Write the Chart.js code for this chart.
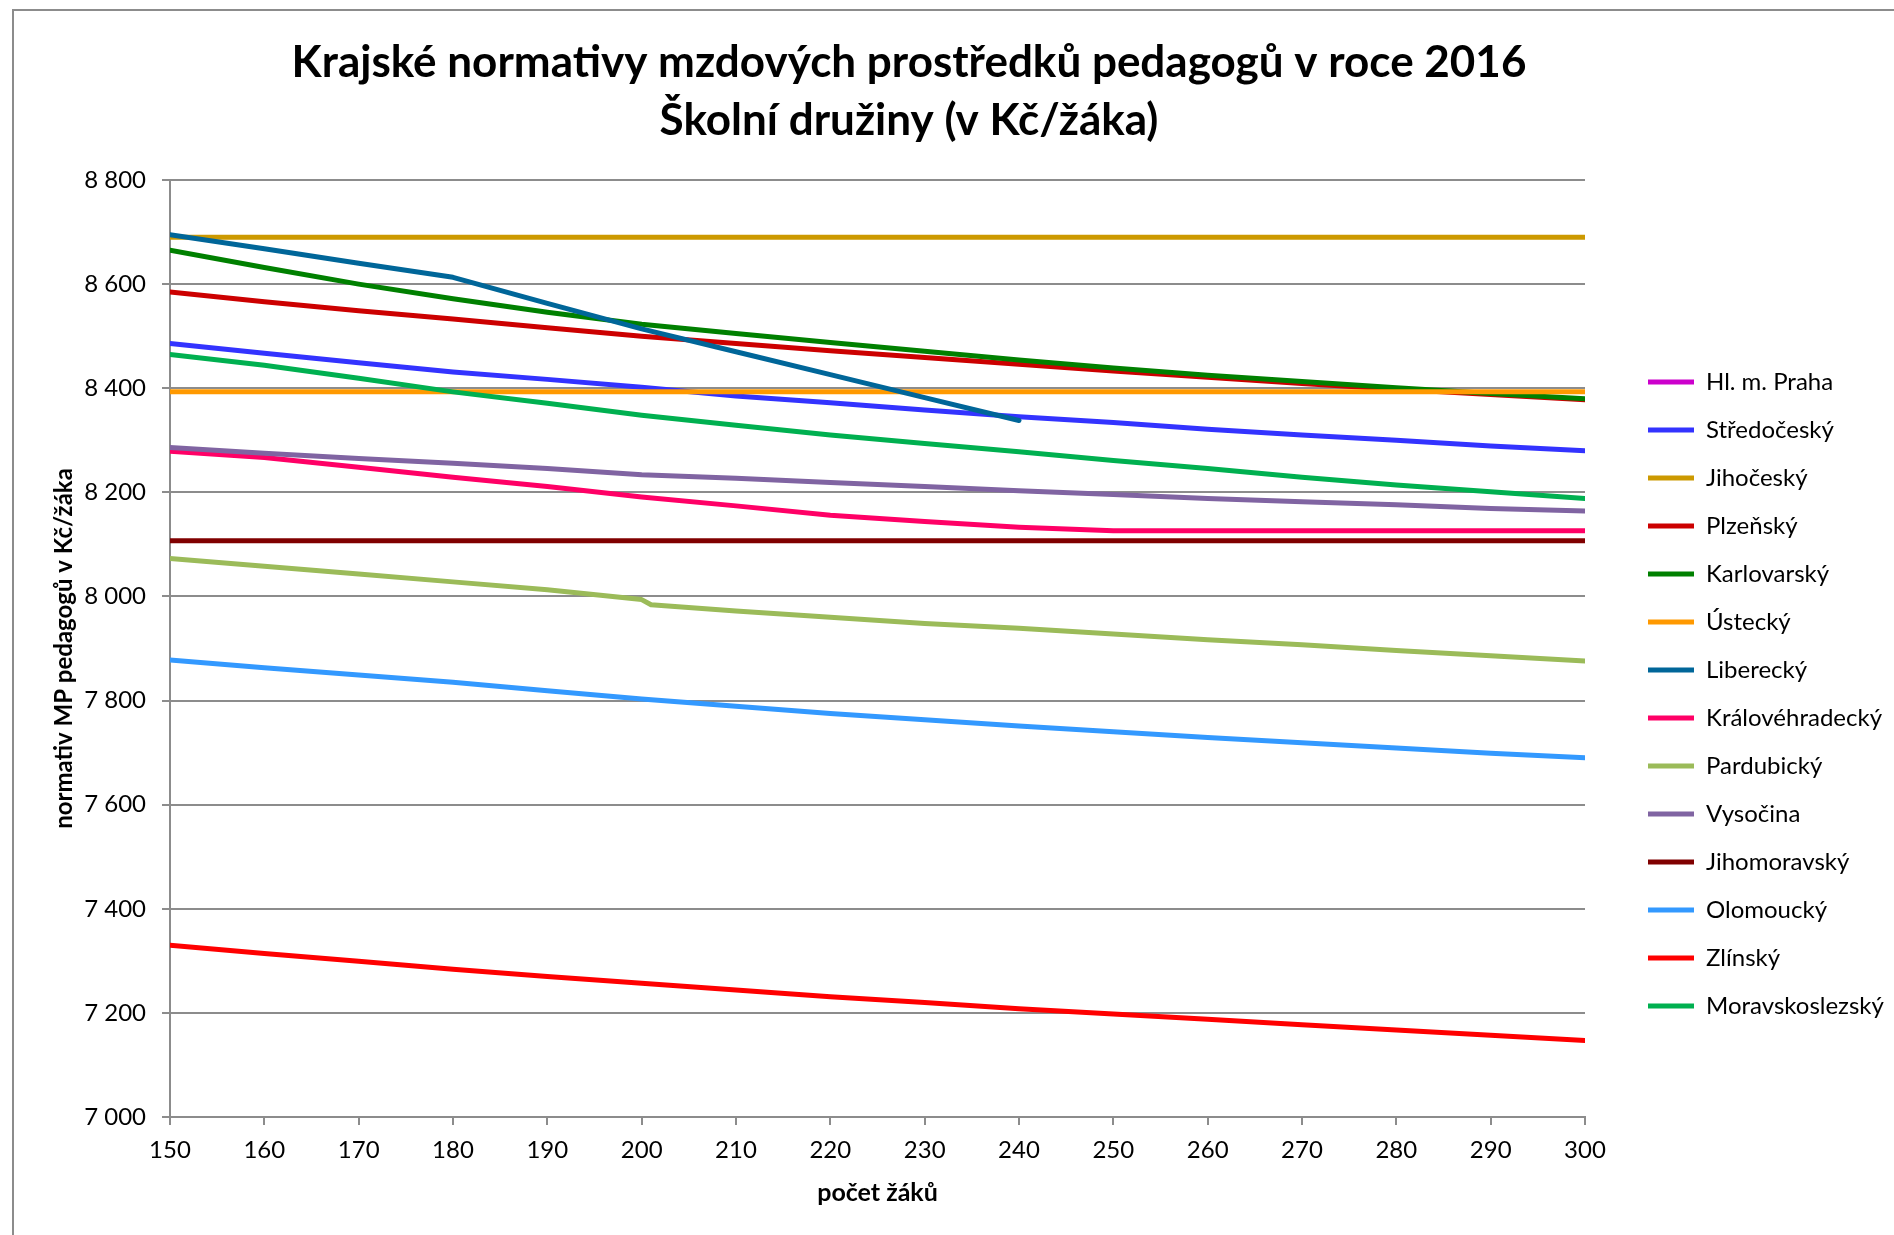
<!DOCTYPE html>
<html lang="cs">
<head>
<meta charset="utf-8">
<title>Krajské normativy – školní družiny</title>
<script src="https://cdn.jsdelivr.net/npm/chart.js@4.4.1/dist/chart.umd.min.js"></script>
<style>
  html, body { margin: 0; padding: 0; background: #fff; overflow: hidden; }
  #ramecek { position: absolute; left: 12px; top: 9px; width: 2000px; height: 1400px; border: 2px solid #8c8c8c; box-sizing: border-box; }
  #obal { position: absolute; left: 0; top: 0; width: 1894px; height: 1235px; }
</style>
</head>
<body>
<div id="ramecek"></div>
<div id="obal"><canvas id="grafico"></canvas></div>
<script>
// počet žáků (osa x), 201 je kvůli skoku u Pardubického kraje
const pocetZaku = [150, 160, 170, 180, 190, 200, 201, 210, 220, 230, 240, 250, 260, 270, 280, 290, 300];

const praha          = [null, null, null, null, null, null, null, null, null, null, null, null, null, null, null, null, null];
const stredocesky    = [8486, 8467, 8449, 8431, 8417, 8402, null, 8385, 8372, 8358, 8345, 8334, 8321, 8310, 8300, 8289, 8280];
const jihocesky      = [8690, 8690, 8690, 8690, 8690, 8690, null, 8690, 8690, 8690, 8690, 8690, 8690, 8690, 8690, 8690, 8690];
const plzensky       = [8585, 8566, 8549, 8533, 8516, 8500, null, 8486, 8472, 8459, 8446, 8433, 8421, 8409, 8398, 8388, 8378];
const karlovarsky    = [8665, 8632, 8600, 8572, 8546, 8523, null, 8505, 8488, 8471, 8454, 8439, 8425, 8413, 8401, 8390, 8380];
const ustecky        = [8393, 8393, 8393, 8393, 8393, 8393, null, 8393, 8393, 8393, 8393, 8393, 8393, 8393, 8393, 8393, 8393];
const liberecky      = [8695, 8668, 8640, 8613, 8563, 8514, null, 8470, 8426, 8382, 8338, null, null, null, null, null, null];
const kralovehradecky = [8279, 8267, 8248, 8229, 8211, 8191, null, 8174, 8156, 8144, 8133, 8126, 8126, 8126, 8126, 8126, 8126];
const pardubicky     = [8073, 8058, 8043, 8028, 8013, 7994, 7984, 7972, 7960, 7948, 7939, 7928, 7917, 7907, 7896, 7886, 7876];
const vysocina       = [8286, 8275, 8265, 8256, 8246, 8234, null, 8227, 8219, 8211, 8203, 8196, 8188, 8182, 8176, 8169, 8164];
const jihomoravsky   = [8107, 8107, 8107, 8107, 8107, 8107, null, 8107, 8107, 8107, 8107, 8107, 8107, 8107, 8107, 8107, 8107];
const olomoucky      = [7878, 7863, 7849, 7835, 7819, 7803, null, 7789, 7775, 7763, 7751, 7740, 7729, 7719, 7709, 7699, 7690];
const zlinsky        = [7330, 7314, 7299, 7284, 7270, 7257, null, 7244, 7231, 7220, 7208, 7198, 7188, 7177, 7167, 7157, 7147];
const moravskoslezsky = [8465, 8444, 8419, 8393, 8371, 8348, null, 8329, 8310, 8294, 8278, 8261, 8246, 8229, 8214, 8201, 8188];

const kraje = ['Hl. m. Praha', 'Středočeský', 'Jihočeský', 'Plzeňský', 'Karlovarský', 'Ústecký', 'Liberecký',
  'Královéhradecký', 'Pardubický', 'Vysočina', 'Jihomoravský', 'Olomoucký', 'Zlínský', 'Moravskoslezský'];
const hodnoty = [praha, stredocesky, jihocesky, plzensky, karlovarsky, ustecky, liberecky,
  kralovehradecky, pardubicky, vysocina, jihomoravsky, olomoucky, zlinsky, moravskoslezsky];
const barvy = ['#cc00cc', '#3333ff', '#cc9900', '#cc0000', '#008000', '#ff9900', '#006699',
  '#ff0066', '#9bbb59', '#8064a2', '#800000', '#3399ff', '#ff0000', '#00b050'];

const titulek = ['Krajské normativy mzdových prostředků pedagogů v roce 2016', 'Školní družiny (v Kč/žáka)'];

const pismo = 'Lato, "Open Sans", sans-serif';
const seda = '#8c8c8c';
const formatCislo = v => v.toString().replace(/\B(?=(\d{3})+(?!\d))/g, ' ');

Chart.defaults.font.family = pismo;
Chart.defaults.color = '#000';

// šířka legendy podle nejdelšího názvu, aby graf končil u 300 a nadpis byl nad středem jako v Excelu
const mereni = document.createElement('canvas').getContext('2d');
mereni.font = '24px ' + pismo;
const sirkaTextu = Math.max(...kraje.map(k => mereni.measureText(k).width));
const sirkaLegendy = 24 + 46 + 12 + sirkaTextu + 10;
const okrajVpravo = 1894 - 1624 - sirkaLegendy;
const okrajVlevo = okrajVpravo - 76;

// pozdější řady se kreslí navrch jako v Excelu
const datasets = kraje.map((nazev, i) => ({
  label: nazev,
  data: pocetZaku.map((x, j) => ({ x: x, y: hodnoty[i][j] })),
  borderColor: barvy[i],
  backgroundColor: barvy[i],
  borderWidth: 5,
  borderCapStyle: 'round',
  borderJoinStyle: 'round',
  pointRadius: 0,
  pointHoverRadius: 0,
  spanGaps: true,
  order: kraje.length - i,
}));

const ctx = document.getElementById('grafico').getContext('2d');

const grafico = new Chart(ctx, {
  type: 'line',
  data: { datasets },
  options: {
    responsive: true,
    maintainAspectRatio: false,
    animation: false,
    layout: { padding: { left: okrajVlevo, right: okrajVpravo, top: 0, bottom: 0 } },
    scales: {
      x: {
        type: 'linear',
        min: 150,
        max: 300,
        ticks: { stepSize: 10, autoSkip: false, maxRotation: 0, font: { size: 24 }, padding: 11 },
        grid: { drawOnChartArea: false, drawTicks: true, tickLength: 8, color: seda, lineWidth: 2 },
        border: { color: seda, width: 2 },
        title: {
          display: true,
          text: 'počet žáků',
          font: { size: 25, weight: 'bold' },
          padding: { top: 0, bottom: 27 },
        },
        afterFit: (osa) => { osa.height = 118; },
      },
      y: {
        min: 7000,
        max: 8800,
        ticks: { stepSize: 200, font: { size: 24 }, padding: 16, callback: (v) => formatCislo(v) },
        grid: { color: seda, lineWidth: 2, tickLength: 8 },
        border: { color: seda, width: 2 },
        title: {
          display: true,
          text: 'normativ MP pedagogů v Kč/žáka',
          font: { size: 24, weight: 'bold' },
          padding: { top: 64 - 14.4 - okrajVlevo, bottom: 0 },
        },
        afterFit: (osa) => { osa.width = 170 - okrajVlevo; },
      },
      // prázdná osa jen jako mezera mezi grafem a legendou
      mezera: {
        type: 'linear',
        position: 'right',
        grid: { display: false },
        border: { display: false },
        ticks: { display: false },
        afterFit: (osa) => { osa.width = 39; },
      },
    },
    plugins: {
      title: {
        display: true,
        text: titulek,
        font: { size: 44, weight: 'bold', lineHeight: 58 / 44 },
        padding: { top: 34, bottom: 30 },
      },
      legend: {
        position: 'right',
        align: 'center',
        title: { display: true, text: '', font: { size: 10, lineHeight: 1 }, padding: { top: 143, bottom: 0 } },
        labels: {
          usePointStyle: true,
          pointStyle: 'line',
          pointStyleWidth: 46,
          padding: 24,
          font: { size: 24 },
          sort: (a, b) => a.datasetIndex - b.datasetIndex,
        },
      },
      tooltip: { enabled: false },
    },
  },
});
</script>
</body>
</html>
